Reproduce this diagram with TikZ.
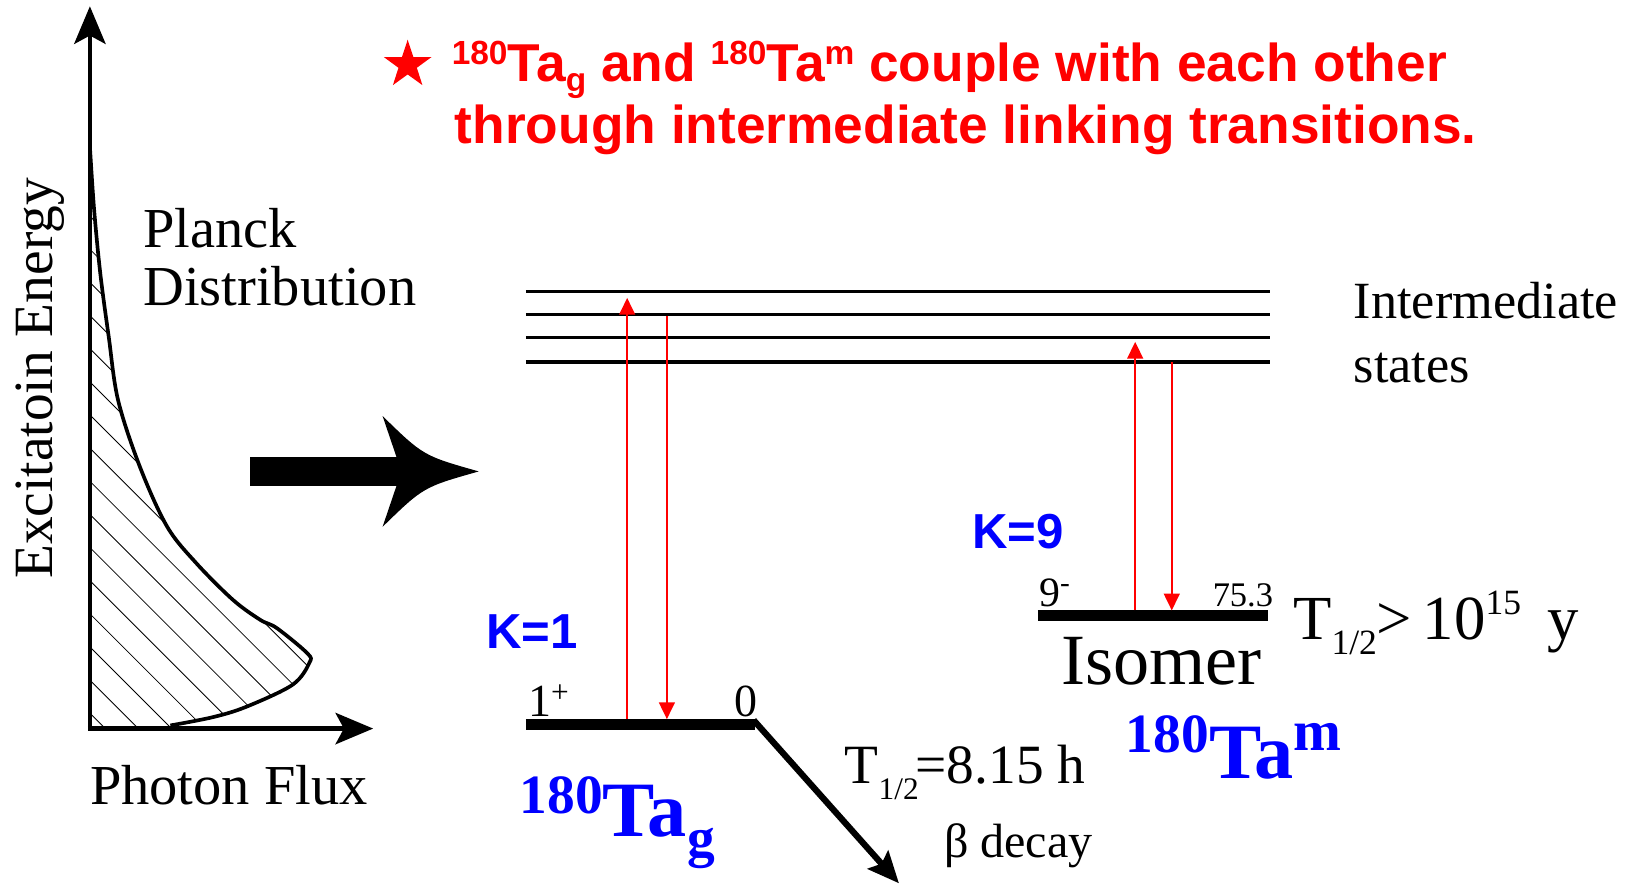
\documentclass[tikz,border=0pt]{standalone}
\usepackage{fontspec}
\setmainfont{Liberation Serif}
\newfontfamily\arialf{Liberation Sans}
\usetikzlibrary{arrows.meta,shapes.geometric}
\newcommand{\fsz}[1]{\fontsize{#1}{#1}\selectfont}
\begin{document}
\begin{tikzpicture}[x=1pt,y=-1pt,
  axis/.style={line width=4pt, -{Stealth[length=36pt,width=30pt,inset=8pt]}},
  ilevel/.style={line width=3.5pt},
  level/.style={line width=11pt},
  trans/.style={red, line width=2pt, -{Triangle[length=16pt,width=15pt]}},
  lbl/.style={inner sep=0pt, anchor=base west},
  blu/.style={text=blue},
  ]
\fill[white] (0,0) rectangle (1568,846);
\useasboundingbox (0,0) rectangle (1568,846);

% ---- hatching under Planck curve
\begin{scope}
\clip plot[smooth, tension=0.55] coordinates {(86,140) (90,200) (96,262) (104,322) (113,383) (134,447) (160,504) (188,539) (223,574) (249,593) (265,601) (294,625) (296,634) (280,655) (236,676) (204,686) (163,694)} -- (163,697) -- (86,697) -- cycle;
\foreach \k in {-10,...,20} \draw[line width=0.8pt] (86,{397+31.7*\k}) -- ++(420,420);
\end{scope}
\draw[line width=3.5pt, line join=round] plot[smooth, tension=0.55] coordinates {(86,140) (90,200) (96,262) (104,322) (113,383) (134,447) (160,504) (188,539) (223,574) (249,593) (265,601) (294,625) (296,634) (280,655) (236,676) (204,686) (163,694)};

% ---- axes
\coordinate (Oy) at (86,699);
\coordinate (Ytip) at (86,6);
\coordinate (Ox) at (84,697);
\coordinate (Xtip) at (357,697);
\draw[axis] (Oy) -- (Ytip);
\draw[axis] (Ox) -- (Xtip);

\node[lbl, font=\fsz{54}] (pl1) at (137,237) {Planck};
\node[lbl, font=\fsz{54}] (pl2) at (137,292) {Distribution};
\node[lbl, font=\fsz{54}] (pf) at (86,770) {Photon Flux};
\node[rotate=90, font=\fsz{53}, inner sep=0pt, anchor=base] (ee) at (50,362) {Excitatoin Energy};

% ---- big arrow
\fill (239,437) rectangle (385,465);
\fill (366,398) .. controls (405,436) .. (458,451) .. controls (405,466) .. (366,504) -- (384,451) -- cycle;

% ---- title
\node[star, star points=5, star point ratio=2.6, fill=red, minimum size=48pt, inner sep=0pt] (star) at (390,62) {};
\node[lbl, text=red, font=\arialf\bfseries\fsz{51}] (t1) at (432,78) {\raisebox{16pt}{\fsz{32}180}Ta\raisebox{-10pt}{\fsz{32}g} and \raisebox{16pt}{\fsz{32}180}Ta\raisebox{16pt}{\fsz{32}m} couple with each other};
\node[lbl, text=red, font=\arialf\bfseries\fsz{51}] (t2) at (435,137) {through intermediate linking transitions.};

% ---- levels
\coordinate (I1l) at (503,279); \coordinate (I1r) at (1215,279);
\coordinate (I2l) at (503,301); \coordinate (I2r) at (1215,301);
\coordinate (I3l) at (503,323); \coordinate (I3r) at (1215,323);
\coordinate (I4l) at (503,346); \coordinate (I4r) at (1215,346);
\draw[ilevel] (I1l) -- (I1r);
\draw[ilevel] (I2l) -- (I2r);
\draw[ilevel] (I3l) -- (I3r);
\draw[ilevel] (I4l) -- (I4r);

\coordinate (g0) at (503,693); \coordinate (g1) at (722,693);
\draw[level] (g0) -- (g1);
\coordinate (bs) at (721,689); \coordinate (bt) at (860,845);
\draw[line width=6pt, -{Stealth[length=30pt,width=26pt,inset=5pt]}] (bs) -- (bt);

\coordinate (m0) at (993,589); \coordinate (m1) at (1213,589);
\draw[level] (m0) -- (m1);

% ---- transitions
\coordinate (u1s) at (600,688); \coordinate (u1e) at (600,285);
\coordinate (d1s) at (638,302); \coordinate (d1e) at (638,688);
\coordinate (u2s) at (1086,584); \coordinate (u2e) at (1086,327);
\coordinate (d2s) at (1121,346); \coordinate (d2e) at (1121,584);
\draw[trans] (u1s) -- (u1e);
\draw[trans] (d1s) -- (d1e);
\draw[trans] (u2s) -- (u2e);
\draw[trans] (d2s) -- (d2e);

% ---- labels
\node[lbl, font=\fsz{44}] (jg) at (505,685) {1\raisebox{13pt}{\fsz{30}+}};
\node[lbl, font=\fsz{44}] (eg) at (702,685) {0};
\node[lbl, font=\fsz{40}] (jm) at (994,580) {9\raisebox{13pt}{\fsz{28}-}};
\node[lbl, font=\fsz{33}] (em) at (1160,580) {75.3};
\node[lbl, font=\fsz{69}] (iso) at (1015,655) {Isomer};
\node[lbl, font=\fsz{60}] (thm) at (1237,612) {T\raisebox{-14pt}{\fsz{34}1/2}>\,10\raisebox{24pt}{\fsz{34}15}\ \,y};
\node[lbl, font=\fsz{53}] (thg) at (808,750) {T\raisebox{-15pt}{\fsz{30}1/2}\kern-3pt=8.15 h};
\node[lbl, font=\fsz{46}] (beta) at (903,820) {β decay};
\node[lbl, font=\fsz{50}] (is1) at (1295,305) {Intermediate};
\node[lbl, font=\fsz{50}] (is2) at (1295,366) {states};

\node[lbl, blu, font=\arialf\bfseries\fsz{47}] (k1) at (465,620) {K=1};
\node[lbl, blu, font=\arialf\bfseries\fsz{47}] (k9) at (930,525) {K=9};

\node[lbl, blu, font=\bfseries\fsz{75}] (tag) at (497,800) {\raisebox{22pt}{\fsz{53}180}Ta\raisebox{-19pt}{\fsz{53}g}};
\node[lbl, blu, font=\bfseries\fsz{75}] (tam) at (1077,745) {\raisebox{25pt}{\fsz{53}180}Ta\raisebox{27pt}{\fsz{55}m}};
\end{tikzpicture}
\end{document}
